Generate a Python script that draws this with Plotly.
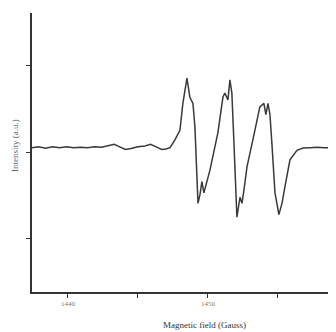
import plotly.graph_objects as go

field = [1437.4, 1437.9, 1438.4, 1438.9, 1439.4, 1439.9, 1440.4, 1440.9, 1441.4, 1441.9,
         1442.4, 1442.9, 1443.3, 1443.7, 1444.1, 1444.5, 1445.0, 1445.5, 1445.9, 1446.3,
         1446.7, 1447.0, 1447.29, 1447.64, 1448.0, 1448.21, 1448.5, 1448.71, 1448.93, 1449.07,
         1449.21, 1449.29, 1449.43, 1449.57, 1449.71, 1449.86, 1450.14, 1450.71, 1451.07, 1451.21,
         1451.43, 1451.57, 1451.71, 1451.86, 1452.07, 1452.29, 1452.43, 1452.57, 1452.79, 1453.21,
         1453.71, 1454.0, 1454.14, 1454.29, 1454.43, 1454.57, 1454.79, 1455.07, 1455.29, 1455.5,
         1455.86, 1456.36, 1456.79, 1457.3, 1457.8, 1458.3, 1458.8, 1459.2]
intensity = [0.05, 0.06, 0.045, 0.06, 0.05, 0.06, 0.05, 0.055, 0.05, 0.06,
             0.055, 0.07, 0.09, 0.06, 0.03, 0.04, 0.06, 0.07, 0.09, 0.06,
             0.03, 0.035, 0.05, 0.14, 0.25, 0.56, 0.85, 0.63, 0.56, 0.29,
             -0.21, -0.59, -0.49, -0.34, -0.47, -0.38, -0.21, 0.22, 0.63, 0.68,
             0.60, 0.83, 0.68, 0.10, -0.75, -0.52, -0.59, -0.44, -0.17, 0.14,
             0.52, 0.56, 0.43, 0.56, 0.43, 0.10, -0.47, -0.72, -0.59, -0.40,
             -0.09, 0.02, 0.046, 0.05, 0.055, 0.05, 0.05, 0.05]

x_tickvals = [1440, 1445, 1450, 1455]
x_ticktext = ["1440", "", "1450", ""]
y_tickvals = [-1, 0, 1]
x_title = "Magnetic field (Gauss)"
y_title = "Intensity (a.u.)"

fig = go.Figure()
fig.add_trace(go.Scatter(x=field, y=intensity, mode="lines",
                         line=dict(color="#3a3a3a", width=1.5), showlegend=False))

fig.update_layout(
    width=328, height=324,
    margin=dict(l=24, r=0, t=5, b=40),
    paper_bgcolor="white", plot_bgcolor="white",
    font=dict(family="Liberation Serif", color="#444"),
    xaxis=dict(range=[1437.43, 1459.15], showgrid=False, zeroline=False, automargin=False,
               showline=True, linecolor="#333", linewidth=1.5,
               ticks="outside", ticklen=4, tickcolor="#333",
               tickvals=x_tickvals, ticktext=x_ticktext,
               tickfont=dict(size=7, color="#777")),
    yaxis=dict(range=[-1.61, 1.6], showgrid=False, zeroline=False, automargin=False,
               showline=True, linecolor="#333", linewidth=1.5,
               ticks="outside", ticklen=4, tickcolor="#333",
               tickvals=y_tickvals, showticklabels=False),
    annotations=[
        dict(text=x_title, xref="paper", yref="paper", x=0.569, y=-0.118,
             xanchor="center", yanchor="middle", showarrow=False,
             font=dict(size=9, color="#333")),
        dict(text=y_title, xref="paper", yref="paper", x=-0.056, y=0.527,
             xanchor="center", yanchor="middle", showarrow=False, textangle=-90,
             font=dict(size=9, color="#666")),
    ],
)

fig.write_html("out.html")
